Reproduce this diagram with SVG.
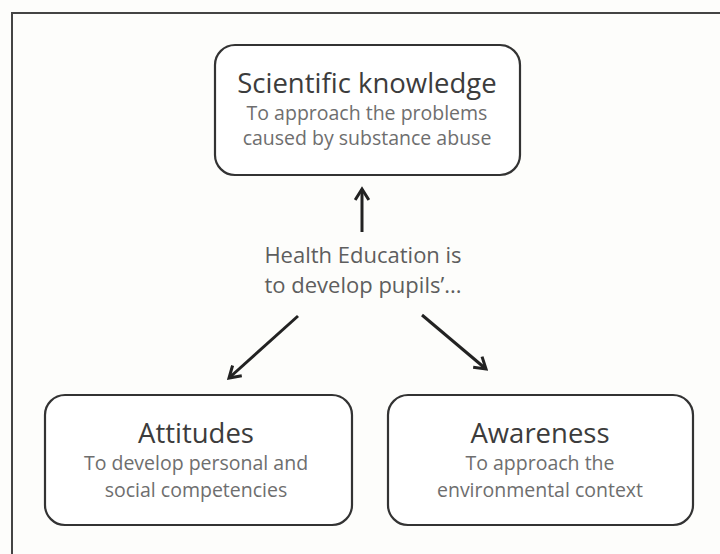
<svg xmlns="http://www.w3.org/2000/svg" width="720" height="554" viewBox="0 0 720 554">
  <defs>
    <style>
      .frame { fill: none; stroke: #444; stroke-width: 2; }
      .box { fill: #ffffff; stroke: #333; stroke-width: 2.2; }
      .title { font-family: "Open Sans", "Noto Sans", sans-serif; font-size: 27.5px; fill: #3c3c3c; text-anchor: middle; }
      .sub { font-family: "Open Sans", "Noto Sans", sans-serif; font-size: 19.5px; fill: #6e6e6e; text-anchor: middle; }
      .center { font-family: "Open Sans", "Noto Sans", sans-serif; font-size: 22px; fill: #5e5e5e; text-anchor: middle; }
      .conn { fill: none; stroke: #222; stroke-width: 3; marker-end: url(#head); }
    </style>
    <marker id="head" viewBox="0 0 12 12" refX="10" refY="6" markerWidth="5.5" markerHeight="5.5" orient="auto" markerUnits="strokeWidth">
      <path d="M2,1 L10,6 L2,11" fill="none" stroke="#222" stroke-width="2.2" stroke-linejoin="miter"/>
    </marker>
  </defs>

  <rect x="0" y="0" width="720" height="554" fill="#fdfdfb"/>
  <polyline class="frame" points="12,554 12,13 720,13"/>

  <g id="scientific-knowledge">
    <rect class="box" x="215" y="45" width="305" height="130" rx="20" ry="20"/>
    <text class="title" x="367" y="93">Scientific knowledge</text>
    <text class="sub" x="367" y="120">To approach the problems</text>
    <text class="sub" x="367" y="145">caused by substance abuse</text>
  </g>

  <g id="health-education">
    <text class="center" x="363" y="263">Health Education is</text>
    <text class="center" x="363" y="293">to develop pupils’...</text>
  </g>

  <g id="attitudes">
    <rect class="box" x="45" y="395" width="307" height="130" rx="20" ry="20"/>
    <text class="title" x="196" y="443">Attitudes</text>
    <text class="sub" x="196" y="470">To develop personal and</text>
    <text class="sub" x="196" y="497">social competencies</text>
  </g>

  <g id="awareness">
    <rect class="box" x="388" y="395" width="305" height="130" rx="20" ry="20"/>
    <text class="title" x="540" y="443">Awareness</text>
    <text class="sub" x="540" y="470">To approach the</text>
    <text class="sub" x="540" y="497">environmental context</text>
  </g>

  <g id="connectors">
    <line class="conn" x1="362" y1="232" x2="362" y2="189"/>
    <line class="conn" x1="298" y1="316" x2="229" y2="378"/>
    <line class="conn" x1="422" y1="315" x2="486" y2="369"/>
  </g>
</svg>
